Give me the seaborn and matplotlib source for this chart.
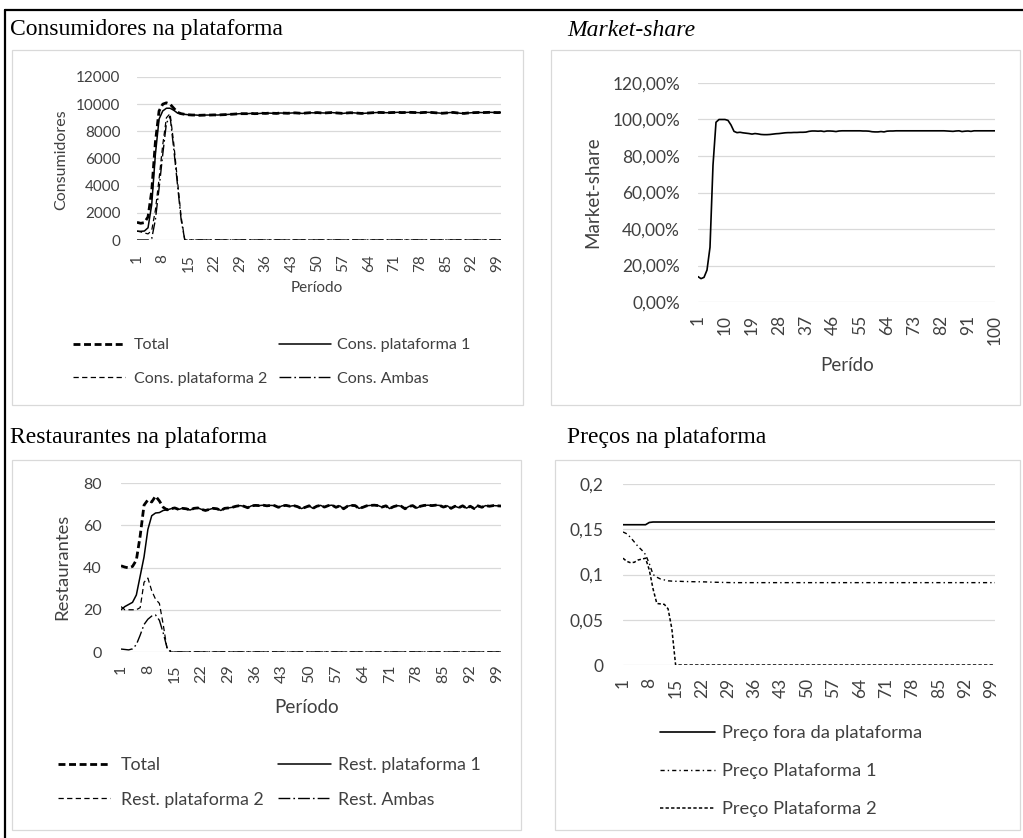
import matplotlib
matplotlib.use("Agg")
import matplotlib.pyplot as plt
from matplotlib.lines import Line2D
from matplotlib.legend import Legend
from matplotlib.patches import Rectangle
from matplotlib.ticker import FuncFormatter, MultipleLocator
import pandas as pd
import seaborn as sns

W, H = 1023, 838

# ---------------------------------------------------------------- data
periods = list(range(1, 101))

cons_total = [
    1300, 1230, 1280, 1700, 3600, 7200, 9500, 10000, 10100, 10000,
    9700, 9400, 9300, 9250, 9220, 9200, 9200, 9180, 9190, 9200,
    9200, 9210, 9200, 9220, 9230, 9250, 9260, 9280, 9300, 9300,
    9300, 9320, 9300, 9310, 9330, 9320, 9340, 9330, 9320, 9350,
    9340, 9330, 9350, 9360, 9340, 9320, 9350, 9370, 9360, 9380,
    9360, 9350, 9370, 9380, 9360, 9340, 9320, 9350, 9370, 9360,
    9340, 9320, 9330, 9350, 9370, 9380, 9390, 9380, 9370, 9380,
    9390, 9400, 9380, 9390, 9400, 9390, 9380, 9370, 9390, 9400,
    9390, 9370, 9350, 9330, 9350, 9380, 9390, 9360, 9330, 9320,
    9350, 9370, 9380, 9390, 9380, 9390, 9400, 9390, 9380, 9390,
]
cons_plat1 = [
    650, 640, 660, 900, 2600, 6300, 8900, 9500, 9700, 9700,
    9550, 9350, 9280, 9250, 9220, 9200, 9200, 9180, 9190, 9200,
    9200, 9210, 9200, 9220, 9230, 9250, 9260, 9280, 9300, 9300,
    9300, 9320, 9300, 9310, 9330, 9320, 9340, 9330, 9320, 9350,
    9340, 9330, 9350, 9360, 9340, 9320, 9350, 9370, 9360, 9380,
    9360, 9350, 9370, 9380, 9360, 9340, 9320, 9350, 9370, 9360,
    9340, 9320, 9330, 9350, 9370, 9380, 9390, 9380, 9370, 9380,
    9390, 9400, 9380, 9390, 9400, 9390, 9380, 9370, 9390, 9400,
    9390, 9370, 9350, 9330, 9350, 9380, 9390, 9360, 9330, 9320,
    9350, 9370, 9380, 9390, 9380, 9390, 9400, 9390, 9380, 9390,
]
cons_plat2 = [
    650, 600, 520, 450, 700, 2200, 4500, 7000, 9000, 9300,
    7100, 4400, 1700, 0, 0, 0, 0, 0, 0, 0,
    0, 0, 0, 0, 0, 0, 0, 0, 0, 0,
    0, 0, 0, 0, 0, 0, 0, 0, 0, 0,
    0, 0, 0, 0, 0, 0, 0, 0, 0, 0,
    0, 0, 0, 0, 0, 0, 0, 0, 0, 0,
    0, 0, 0, 0, 0, 0, 0, 0, 0, 0,
    0, 0, 0, 0, 0, 0, 0, 0, 0, 0,
    0, 0, 0, 0, 0, 0, 0, 0, 0, 0,
    0, 0, 0, 0, 0, 0, 0, 0, 0, 0,
]
cons_ambas = [
    0, 0, 0, 0, 100, 1500, 3800, 6300, 8600, 9100,
    6700, 4100, 1500, 0, 0, 0, 0, 0, 0, 0,
    0, 0, 0, 0, 0, 0, 0, 0, 0, 0,
    0, 0, 0, 0, 0, 0, 0, 0, 0, 0,
    0, 0, 0, 0, 0, 0, 0, 0, 0, 0,
    0, 0, 0, 0, 0, 0, 0, 0, 0, 0,
    0, 0, 0, 0, 0, 0, 0, 0, 0, 0,
    0, 0, 0, 0, 0, 0, 0, 0, 0, 0,
    0, 0, 0, 0, 0, 0, 0, 0, 0, 0,
    0, 0, 0, 0, 0, 0, 0, 0, 0, 0,
]

market_share = [
    0.139, 0.128, 0.135, 0.175, 0.300, 0.750, 0.985, 1.000, 1.000, 1.000,
    0.995, 0.970, 0.935, 0.928, 0.930, 0.927, 0.925, 0.923, 0.920, 0.923,
    0.921, 0.918, 0.917, 0.917, 0.918, 0.920, 0.922, 0.923, 0.925, 0.927,
    0.928, 0.928, 0.929, 0.929, 0.930, 0.930, 0.931, 0.935, 0.937, 0.937,
    0.936, 0.937, 0.934, 0.937, 0.937, 0.936, 0.934, 0.937, 0.938, 0.938,
    0.938, 0.938, 0.938, 0.938, 0.938, 0.937, 0.937, 0.936, 0.933, 0.932,
    0.932, 0.934, 0.932, 0.936, 0.937, 0.937, 0.938, 0.938, 0.938, 0.938,
    0.938, 0.938, 0.938, 0.938, 0.938, 0.938, 0.938, 0.938, 0.938, 0.938,
    0.938, 0.938, 0.938, 0.937, 0.936, 0.935, 0.937, 0.938, 0.934, 0.936,
    0.937, 0.935, 0.938, 0.938, 0.938, 0.938, 0.938, 0.938, 0.938, 0.938,
]

rest_total = [
    40.8, 40.2, 39.8, 40.5, 43.5, 55.0, 69.5, 72.0, 71.0, 73.8,
    71.5, 68.5, 67.3, 67.8, 68.2, 67.5, 68.0, 67.8, 67.2, 68.0,
    68.2, 67.5, 67.0, 67.5, 68.0, 67.8, 67.0, 68.0, 68.2, 68.5,
    69.0, 69.3, 69.0, 68.3, 69.2, 69.4, 69.3, 69.5, 69.2, 69.4,
    69.3, 68.5, 69.2, 69.4, 69.0, 69.3, 68.8, 67.9, 68.5, 69.2,
    68.0, 69.0, 69.4, 68.6, 69.3, 69.5, 68.5, 69.2, 67.8, 69.0,
    69.4, 69.3, 68.0, 68.5, 69.2, 69.4, 69.5, 69.3, 68.6, 69.2,
    67.9, 68.8, 69.3, 69.0, 67.8, 68.9, 69.3, 68.1, 69.0, 69.4,
    69.5, 69.3, 69.5, 69.4, 68.6, 69.2, 68.0, 69.0, 68.3, 69.2,
    68.1, 69.0, 67.9, 69.2, 68.5, 69.3, 69.0, 69.3, 69.2, 69.1,
]
rest_plat1 = [
    20.0, 21.5, 22.5, 23.5, 27.0, 36.0, 45.0, 58.0, 64.5, 65.8,
    66.0, 67.0, 67.3, 67.8, 68.2, 67.5, 68.0, 67.8, 67.2, 68.0,
    68.2, 67.5, 67.0, 67.5, 68.0, 67.8, 67.0, 68.0, 68.2, 68.5,
    69.0, 69.3, 69.0, 68.3, 69.2, 69.4, 69.3, 69.5, 69.2, 69.4,
    69.3, 68.5, 69.2, 69.4, 69.0, 69.3, 68.8, 67.9, 68.5, 69.2,
    68.0, 69.0, 69.4, 68.6, 69.3, 69.5, 68.5, 69.2, 67.8, 69.0,
    69.4, 69.3, 68.0, 68.5, 69.2, 69.4, 69.5, 69.3, 68.6, 69.2,
    67.9, 68.8, 69.3, 69.0, 67.8, 68.9, 69.3, 68.1, 69.0, 69.4,
    69.5, 69.3, 69.5, 69.4, 68.6, 69.2, 68.0, 69.0, 68.3, 69.2,
    68.1, 69.0, 67.9, 69.2, 68.5, 69.3, 69.0, 69.3, 69.2, 69.1,
]
rest_plat2 = [
    21.5, 20.0, 20.0, 20.0, 20.0, 21.0, 33.0, 35.0, 29.0, 25.0,
    23.0, 13.0, 1.5, 0, 0, 0, 0, 0, 0, 0,
    0, 0, 0, 0, 0, 0, 0, 0, 0, 0,
    0, 0, 0, 0, 0, 0, 0, 0, 0, 0,
    0, 0, 0, 0, 0, 0, 0, 0, 0, 0,
    0, 0, 0, 0, 0, 0, 0, 0, 0, 0,
    0, 0, 0, 0, 0, 0, 0, 0, 0, 0,
    0, 0, 0, 0, 0, 0, 0, 0, 0, 0,
    0, 0, 0, 0, 0, 0, 0, 0, 0, 0,
    0, 0, 0, 0, 0, 0, 0, 0, 0, 0,
]
rest_ambas = [
    1.4, 1.2, 1.0, 1.5, 3.5, 8.0, 13.0, 15.5, 17.0, 17.5,
    15.0, 9.0, 2.0, 0.3, 0, 0, 0, 0, 0, 0,
    0, 0, 0, 0, 0, 0, 0, 0, 0, 0,
    0, 0, 0, 0, 0, 0, 0, 0, 0, 0,
    0, 0, 0, 0, 0, 0, 0, 0, 0, 0,
    0, 0, 0, 0, 0, 0, 0, 0, 0, 0,
    0, 0, 0, 0, 0, 0, 0, 0, 0, 0,
    0, 0, 0, 0, 0, 0, 0, 0, 0, 0,
    0, 0, 0, 0, 0, 0, 0, 0, 0, 0,
    0, 0, 0, 0, 0, 0, 0, 0, 0, 0,
]

price_out = [
    0.155, 0.155, 0.155, 0.155, 0.155, 0.155, 0.155, 0.1575, 0.158, 0.158,
    0.158, 0.158, 0.158, 0.158, 0.158, 0.158, 0.158, 0.158, 0.158, 0.158,
    0.158, 0.158, 0.158, 0.158, 0.158, 0.158, 0.158, 0.158, 0.158, 0.158,
    0.158, 0.158, 0.158, 0.158, 0.158, 0.158, 0.158, 0.158, 0.158, 0.158,
    0.158, 0.158, 0.158, 0.158, 0.158, 0.158, 0.158, 0.158, 0.158, 0.158,
    0.158, 0.158, 0.158, 0.158, 0.158, 0.158, 0.158, 0.158, 0.158, 0.158,
    0.158, 0.158, 0.158, 0.158, 0.158, 0.158, 0.158, 0.158, 0.158, 0.158,
    0.158, 0.158, 0.158, 0.158, 0.158, 0.158, 0.158, 0.158, 0.158, 0.158,
    0.158, 0.158, 0.158, 0.158, 0.158, 0.158, 0.158, 0.158, 0.158, 0.158,
    0.158, 0.158, 0.158, 0.158, 0.158, 0.158, 0.158, 0.158, 0.158, 0.158,
]
price_plat1 = [
    0.147, 0.145, 0.141, 0.136, 0.131, 0.127, 0.122, 0.112, 0.100, 0.097,
    0.095, 0.094, 0.093, 0.0927, 0.0925, 0.0925, 0.0923, 0.0922, 0.0921, 0.092,
    0.092, 0.0919, 0.0918, 0.0916, 0.0915, 0.0914, 0.0913, 0.0912, 0.0911, 0.091,
    0.091, 0.091, 0.091, 0.091, 0.091, 0.091, 0.091, 0.091, 0.091, 0.091,
    0.091, 0.091, 0.091, 0.091, 0.091, 0.091, 0.091, 0.091, 0.091, 0.091,
    0.091, 0.091, 0.091, 0.091, 0.091, 0.091, 0.091, 0.091, 0.091, 0.091,
    0.091, 0.091, 0.091, 0.091, 0.091, 0.091, 0.091, 0.091, 0.091, 0.091,
    0.091, 0.091, 0.091, 0.091, 0.091, 0.091, 0.091, 0.091, 0.091, 0.091,
    0.091, 0.091, 0.091, 0.091, 0.091, 0.091, 0.091, 0.091, 0.091, 0.091,
    0.091, 0.091, 0.091, 0.091, 0.091, 0.091, 0.091, 0.091, 0.091, 0.091,
]
price_plat2 = [
    0.118, 0.1145, 0.113, 0.1135, 0.116, 0.117, 0.118, 0.105, 0.084, 0.068,
    0.0675, 0.067, 0.062, 0.040, 0, 0, 0, 0, 0, 0,
    0, 0, 0, 0, 0, 0, 0, 0, 0, 0,
    0, 0, 0, 0, 0, 0, 0, 0, 0, 0,
    0, 0, 0, 0, 0, 0, 0, 0, 0, 0,
    0, 0, 0, 0, 0, 0, 0, 0, 0, 0,
    0, 0, 0, 0, 0, 0, 0, 0, 0, 0,
    0, 0, 0, 0, 0, 0, 0, 0, 0, 0,
    0, 0, 0, 0, 0, 0, 0, 0, 0, 0,
    0, 0, 0, 0, 0, 0, 0, 0, 0, 0,
]

ticks_7 = list(range(1, 100, 7))
ticks_9 = list(range(1, 101, 9))

# ---------------------------------------------------------------- style
sns.set_theme(style="white")
plt.rcParams["font.family"] = ["Lato", "DejaVu Sans"]
plt.rcParams["lines.scale_dashes"] = False

TXT = "#404040"
GRID = "#d9d9d9"
SERIF = ["Liberation Serif", "DejaVu Serif"]

LS_TOTAL = (0, (5.0, 2.6))
LS_P2 = (0, (3.8, 2.4))
LS_AMBAS = (0, (8.5, 2.2, 1.2, 2.2))
LS_PRICE1 = (0, (3.0, 2.2, 1.0, 2.2))
LS_PRICE2 = (0, (2.4, 1.6))

fig = plt.figure(figsize=(W / 100, H / 100), dpi=100)
fig.patch.set_facecolor("white")


def px_box(l, t, r, b):
    return [l / W, 1 - b / H, (r - l) / W, (b - t) / H]


def fx(x):
    return x / W


def fy(y):
    return 1 - y / H


# outer frame and panel frames
fig.add_artist(Line2D([fx(5), fx(1023)], [fy(10), fy(10)], color="black", lw=1.6))
fig.add_artist(Line2D([fx(5), fx(5)], [fy(10), fy(838)], color="black", lw=1.6))
for (l, t, r, b) in [(12, 50, 523, 405), (551, 50, 1020, 405),
                     (12, 460, 521, 830), (555, 460, 1020, 830)]:
    fig.add_artist(Rectangle((fx(l), fy(b)), (r - l) / W, (b - t) / H,
                             transform=fig.transFigure, fill=False,
                             ec=GRID, lw=0.9))

# section titles
TITLE_SIZE = 17
fig.text(fx(10), fy(30), "Consumidores na plataforma", family=SERIF,
         fontsize=TITLE_SIZE, va="center", ha="left", color="black")
fig.text(fx(567), fy(30), "Market-share", family=SERIF, style="italic",
         fontsize=TITLE_SIZE, va="center", ha="left", color="black")
fig.text(fx(10), fy(437), "Restaurantes na plataforma", family=SERIF,
         fontsize=TITLE_SIZE, va="center", ha="left", color="black")
fig.text(fx(567), fy(437), "Preços na plataforma", family=SERIF,
         fontsize=TITLE_SIZE, va="center", ha="left", color="black")


def style_axes(ax, box, ymax, ystep, xticks, yfmt, tsize, ypad, xpad):
    ax.set_xlim(1, 100)
    ax.set_ylim(0, ymax)
    ax.yaxis.set_major_locator(MultipleLocator(ystep))
    ax.yaxis.set_major_formatter(FuncFormatter(yfmt))
    ax.set_xticks(xticks)
    ax.set_xticklabels([str(v) for v in xticks], rotation=90)
    ax.grid(axis="y", color=GRID, lw=0.9)
    ax.grid(axis="x", visible=False)
    ax.set_axisbelow(True)
    for s in ax.spines.values():
        s.set_visible(False)
    ax.tick_params(axis="y", length=0, pad=ypad, labelsize=tsize, labelcolor=TXT)
    ax.tick_params(axis="x", length=0, pad=xpad, labelsize=tsize, labelcolor=TXT)
    ax.set_facecolor("none")


def set_labels(ax, box, xlabel, xpos, ylabel, ypos, size_x, size_y):
    l, t, r, b = box
    if xlabel:
        ax.set_xlabel(xlabel, fontsize=size_x, color=TXT)
        ax.xaxis.label.set_va("center")
        ax.xaxis.set_label_coords((xpos[0] - l) / (r - l), (b - xpos[1]) / (b - t))
    else:
        ax.set_xlabel("")
    if ylabel:
        ax.set_ylabel(ylabel, fontsize=size_y, color=TXT)
        ax.yaxis.label.set_va("center")
        ax.yaxis.set_label_coords((ypos[0] - l) / (r - l), (b - ypos[1]) / (b - t))
    else:
        ax.set_ylabel("")


def add_legend(ax, handles, labels, x, y, fs, hl, htp, ls):
    leg = Legend(ax, handles, labels, loc="upper left",
                 bbox_to_anchor=(fx(x), fy(y)), bbox_transform=fig.transFigure,
                 frameon=False, fontsize=fs, handlelength=hl,
                 handletextpad=htp, labelspacing=ls, borderpad=0,
                 borderaxespad=0, labelcolor=TXT)
    ax.add_artist(leg)


def int_fmt(v, _):
    return f"{v:.0f}"


def pct_fmt(v, _):
    return f"{v * 100:.2f}%".replace(".", ",")


def dec_fmt(v, _):
    s = f"{v:.2f}".rstrip("0").rstrip(".")
    return s.replace(".", ",")


# ---------------------------------------------------------------- consumers
box_c = (137, 77, 501, 240)
ax_c = fig.add_axes(px_box(*box_c))
df_c = pd.DataFrame({"Período": periods, "Total": cons_total,
                     "Cons. plataforma 1": cons_plat1,
                     "Cons. plataforma 2": cons_plat2,
                     "Cons. Ambas": cons_ambas})
sns.lineplot(data=df_c, x="Período", y="Cons. Ambas", ax=ax_c, color="black",
             lw=1.0, linestyle=LS_AMBAS, label="Cons. Ambas", legend=False)
sns.lineplot(data=df_c, x="Período", y="Cons. plataforma 2", ax=ax_c, color="black",
             lw=0.9, linestyle=LS_P2, label="Cons. plataforma 2", legend=False)
sns.lineplot(data=df_c, x="Período", y="Cons. plataforma 1", ax=ax_c, color="black",
             lw=1.1, label="Cons. plataforma 1", legend=False)
sns.lineplot(data=df_c, x="Período", y="Total", ax=ax_c, color="black",
             lw=2.0, linestyle=LS_TOTAL, label="Total", legend=False)
style_axes(ax_c, box_c, 12000, 2000, ticks_7, int_fmt, 11, 12, 10)
set_labels(ax_c, box_c, "Período", (317, 288), "Consumidores", (61, 160), 11, 11.5)
h = {ln.get_label(): ln for ln in ax_c.get_lines()}
add_legend(ax_c, [h["Total"], h["Cons. plataforma 2"]],
           ["Total", "Cons. plataforma 2"], 73, 338, 11.6, 3.2, 0.6, 1.2)
add_legend(ax_c, [h["Cons. plataforma 1"], h["Cons. Ambas"]],
           ["Cons. plataforma 1", "Cons. Ambas"], 279, 338, 11.6, 3.2, 0.4, 1.2)

# ---------------------------------------------------------------- market share
box_m = (698, 83, 995, 302)
ax_m = fig.add_axes(px_box(*box_m))
df_m = pd.DataFrame({"Perído": periods, "Market-share": market_share})
sns.lineplot(data=df_m, x="Perído", y="Market-share", ax=ax_m, color="black",
             lw=1.2, legend=False)
style_axes(ax_m, box_m, 1.2, 0.2, ticks_9, pct_fmt, 12.5, 13, 9)
set_labels(ax_m, box_m, "Perído", (847, 365), "Market-share", (593, 192), 13.5, 13.5)

# ---------------------------------------------------------------- restaurants
box_r = (121, 483, 501, 652)
ax_r = fig.add_axes(px_box(*box_r))
df_r = pd.DataFrame({"Período": periods, "Total": rest_total,
                     "Rest. plataforma 1": rest_plat1,
                     "Rest. plataforma 2": rest_plat2,
                     "Rest. Ambas": rest_ambas})
sns.lineplot(data=df_r, x="Período", y="Rest. Ambas", ax=ax_r, color="black",
             lw=1.0, linestyle=LS_AMBAS, label="Rest. Ambas", legend=False)
sns.lineplot(data=df_r, x="Período", y="Rest. plataforma 2", ax=ax_r, color="black",
             lw=0.9, linestyle=LS_P2, label="Rest. plataforma 2", legend=False)
sns.lineplot(data=df_r, x="Período", y="Rest. plataforma 1", ax=ax_r, color="black",
             lw=1.1, label="Rest. plataforma 1", legend=False)
sns.lineplot(data=df_r, x="Período", y="Total", ax=ax_r, color="black",
             lw=2.0, linestyle=LS_TOTAL, label="Total", legend=False)
style_axes(ax_r, box_r, 80, 20, ticks_7, int_fmt, 11.5, 14, 9)
set_labels(ax_r, box_r, "Período", (307, 707), "Restaurantes", (62, 567), 13.6, 13.3)
h = {ln.get_label(): ln for ln in ax_r.get_lines()}
add_legend(ax_r, [h["Total"], h["Rest. plataforma 2"]],
           ["Total", "Rest. plataforma 2"], 58, 757, 12.8, 2.9, 0.65, 1.05)
add_legend(ax_r, [h["Rest. plataforma 1"], h["Rest. Ambas"]],
           ["Rest. plataforma 1", "Rest. Ambas"], 278, 757, 12.8, 3.0, 0.35, 1.05)

# ---------------------------------------------------------------- prices
box_p = (623, 484, 995, 665)
ax_p = fig.add_axes(px_box(*box_p))
df_p = pd.DataFrame({"Período": periods, "Preço fora da plataforma": price_out,
                     "Preço Plataforma 1": price_plat1,
                     "Preço Plataforma 2": price_plat2})
sns.lineplot(data=df_p, x="Período", y="Preço Plataforma 2", ax=ax_p, color="black",
             lw=1.1, linestyle=LS_PRICE2, label="Preço Plataforma 2", legend=False)
sns.lineplot(data=df_p, x="Período", y="Preço Plataforma 1", ax=ax_p, color="black",
             lw=1.0, linestyle=LS_PRICE1, label="Preço Plataforma 1", legend=False)
sns.lineplot(data=df_p, x="Período", y="Preço fora da plataforma", ax=ax_p,
             color="black", lw=1.2, label="Preço fora da plataforma", legend=False)
style_axes(ax_p, box_p, 0.2, 0.05, ticks_7, dec_fmt, 12.5, 14, 9)
set_labels(ax_p, box_p, None, None, None, None, 12, 12)
h = {ln.get_label(): ln for ln in ax_p.get_lines()}
add_legend(ax_p, [h["Preço fora da plataforma"], h["Preço Plataforma 1"],
                  h["Preço Plataforma 2"]],
           ["Preço fora da plataforma", "Preço Plataforma 1", "Preço Plataforma 2"],
           660, 725, 13.2, 3.0, 0.4, 1.2)

fig.savefig("out.png", dpi=100, facecolor="white")
